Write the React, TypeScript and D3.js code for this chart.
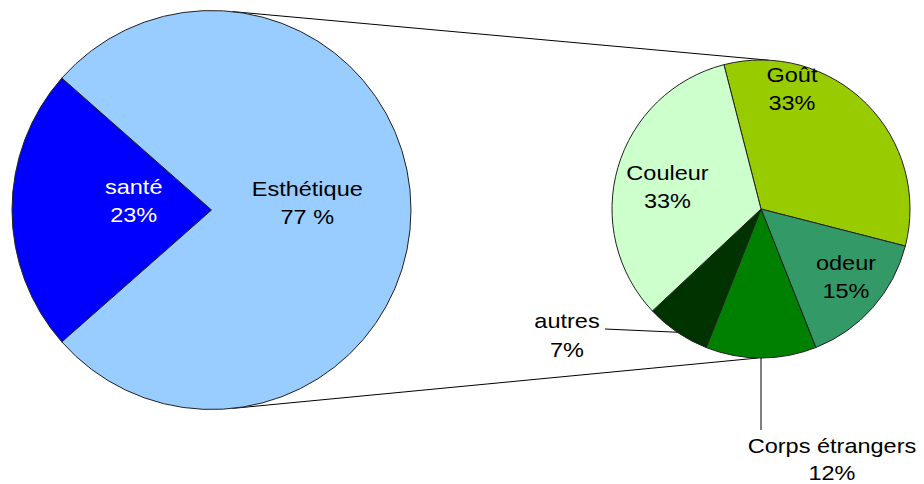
import React, { useEffect, useRef } from 'react';
import * as d3 from 'd3';

// main pie
const mainLabels = ['santé', 'Esthétique'];
const mainValues = [23, 77];
const mainPct = ['23%', '77 %'];
const mainColors = ['#0000ff', '#99ccff'];
const mainTextColors = ['#ffffff', '#000000'];

// secondary pie (breakdown of Esthétique)
const subLabels = ['Goût', 'odeur', 'Corps étrangers', 'autres', 'Couleur'];
const subValues = [33, 15, 12, 7, 33];
const subPct = ['33%', '15%', '12%', '7%', '33%'];
const subColors = ['#99cc00', '#339966', '#008000', '#003300', '#ccffcc'];

const W = 924;
const H = 484;
const FONT = '"Liberation Sans", Arial, sans-serif';

const App = () => {
  const ref = useRef<SVGSVGElement | null>(null);

  useEffect(() => {
    if (!ref.current) return;
    const svg = d3.select(ref.current);
    svg.selectAll('*').remove();

    const main = { x: 211.5, y: 210, r: 199.5 };
    const sub = { x: 761, y: 209, r: 149 };
    const rad = (deg: number) => (deg * Math.PI) / 180;

    // connector lines (drawn first, under the pies)
    const polar = (c: { x: number; y: number; r: number }, deg: number) => [
      c.x + c.r * Math.sin(rad(deg)),
      c.y - c.r * Math.cos(rad(deg)),
    ];
    [[6, 3], [174, 181]].forEach(([a, b]) => {
      const p1 = polar(main, a);
      const p2 = polar(sub, b);
      svg.append('line')
        .attr('x1', p1[0]).attr('y1', p1[1])
        .attr('x2', p2[0]).attr('y2', p2[1])
        .attr('stroke', '#000').attr('stroke-width', 1);
    });

    // main pie: santé centred on the left
    const santeFrac = mainValues[0] / d3.sum(mainValues);
    const mainStart = 1.5 * Math.PI - santeFrac * Math.PI;
    const mainPie = d3.pie<number>().sort(null).startAngle(mainStart).endAngle(mainStart + 2 * Math.PI);
    const mainArc = d3.arc<d3.PieArcDatum<number>>().innerRadius(0).outerRadius(main.r);
    const mg = svg.append('g').attr('transform', `translate(${main.x},${main.y})`);
    const mainArcs = mainPie(mainValues);
    mg.selectAll('path').data(mainArcs).enter().append('path')
      .attr('d', mainArc)
      .attr('fill', (d, i) => mainColors[i])
      .attr('stroke', '#222').attr('stroke-width', 1);

    const mainLabelRatio = [0.39, 0.48];
    const mainLineDy = [[-16, 12], [-14, 13.5]];
    mainArcs.forEach((d, i) => {
      const lab = d3.arc<d3.PieArcDatum<number>>()
        .innerRadius(main.r * mainLabelRatio[i]).outerRadius(main.r * mainLabelRatio[i]);
      const [cx, cy] = lab.centroid(d);
      [mainLabels[i], mainPct[i]].forEach((t, k) => {
        mg.append('text')
          .attr('transform', `translate(${cx},${cy + mainLineDy[i][k]}) scale(1.12,1)`)
          .attr('text-anchor', 'middle')
          .attr('font-family', FONT).attr('font-size', 21)
          .attr('fill', mainTextColors[i])
          .text(t);
      });
    });

    // secondary pie
    const subStart = rad(-14.4);
    const subPie = d3.pie<number>().sort(null).startAngle(subStart).endAngle(subStart + 2 * Math.PI);
    const subArc = d3.arc<d3.PieArcDatum<number>>().innerRadius(0).outerRadius(sub.r);
    const sg = svg.append('g').attr('transform', `translate(${sub.x},${sub.y})`);
    const subArcs = subPie(subValues);
    sg.selectAll('path').data(subArcs).enter().append('path')
      .attr('d', subArc)
      .attr('fill', (d, i) => subColors[i])
      .attr('stroke', '#222').attr('stroke-width', 1);

    // label placement relative to the secondary pie centre
    const subLabelPos = [
      { x: 31, y: [-127, -99] },
      { x: 85, y: [61, 89] },
      { x: 71, y: [244, 271] },
      { x: -194, y: [119, 148] },
      { x: -93.5, y: [-29, -1] },
    ];
    // leader lines for the outside labels
    const leaders: Record<number, [number, number]> = { 2: [3, 221], 3: [-156, 120] };
    subArcs.forEach((d, i) => {
      const pos = subLabelPos[i];
      if (leaders[i]) {
        const mid = (d.startAngle + d.endAngle) / 2;
        const ax = sub.r * Math.sin(mid);
        const ay = -sub.r * Math.cos(mid);
        const [lx, ly] = leaders[i];
        sg.append('line')
          .attr('x1', i === 2 ? ax : lx).attr('y1', ly)
          .attr('x2', ax).attr('y2', ay)
          .attr('stroke', '#000').attr('stroke-width', 1);
      }
      [subLabels[i], subPct[i]].forEach((t, k) => {
        sg.append('text')
          .attr('transform', `translate(${pos.x},${pos.y[k]}) scale(1.12,1)`)
          .attr('text-anchor', 'middle')
          .attr('font-family', FONT).attr('font-size', 21)
          .attr('fill', '#000')
          .text(t);
      });
    });
  }, []);

  return (
    <svg
      ref={ref}
      width={W}
      height={H}
      style={{ position: 'absolute', left: 0, top: 0, background: '#fff' }}
    />
  );
};

export default App;
